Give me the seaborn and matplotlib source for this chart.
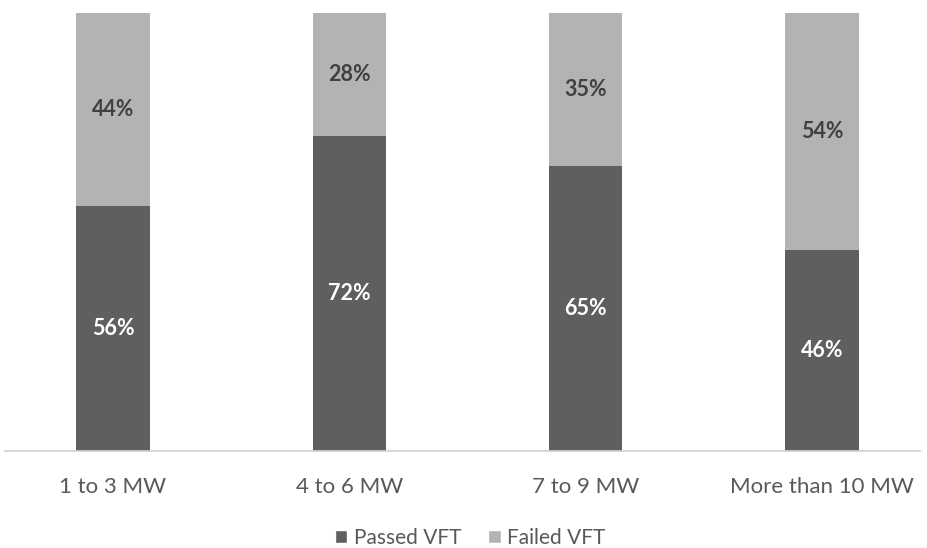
import matplotlib
matplotlib.use("Agg")
import matplotlib.pyplot as plt
import seaborn as sns
import pandas as pd
from matplotlib.patches import Patch

categories = ["1 to 3 MW", "4 to 6 MW", "7 to 9 MW", "More than 10 MW"]
passed = [0.56, 0.72, 0.65, 0.46]
failed = [0.44, 0.28, 0.35, 0.54]
series_names = ["Passed VFT", "Failed VFT"]

dark = "#5f5f5f"
light = "#b3b3b3"
text_col = "#595959"

sns.set_theme(style="white")
plt.rcParams["font.family"] = ["Lato", "DejaVu Sans"]

fig = plt.figure(figsize=(9.27, 5.48), dpi=100)
W, H = 927, 548
ax = fig.add_axes([5 / W, 1 - 451 / H, (920 - 5) / W, (451 - 13) / H])

df = pd.DataFrame({"cat": categories, "passed": passed, "total": [p + f for p, f in zip(passed, failed)]})
sns.barplot(data=df, x="cat", y="total", color=light, width=0.31, ax=ax, saturation=1, edgecolor="none")
sns.barplot(data=df, x="cat", y="passed", color=dark, width=0.31, ax=ax, saturation=1, edgecolor="none")

for i, (p, f) in enumerate(zip(passed, failed)):
    ax.text(i, p * 0.5, f"{round(p*100)}%", ha="center", va="center", color="white",
            fontsize=15.5, fontweight="bold")
    ax.text(i, p + f * 0.5, f"{round(f*100)}%", ha="center", va="center", color="#404040",
            fontsize=15.5, fontweight="bold")

ax.set_ylim(0, 1)
ax.set_xlim((5 - 113) / 236.3, (920 - 113) / 236.3)
ax.set_yticks([])
ax.set_xlabel("")
ax.set_ylabel("")
for s in ["top", "right", "left"]:
    ax.spines[s].set_visible(False)
ax.spines["bottom"].set_color("#d0d0d0")
ax.spines["bottom"].set_linewidth(1.2)
ax.tick_params(axis="x", length=0, pad=19, labelsize=16, labelcolor=text_col)

handles = [Patch(facecolor=dark, label=series_names[0]), Patch(facecolor=light, label=series_names[1])]
fig.legend(handles=handles, loc="center", bbox_to_anchor=(470 / W, 1 - 538 / H), ncol=2, frameon=False,
           fontsize=15, labelcolor=text_col, handlelength=0.6, handleheight=0.6, handletextpad=0.3,
           columnspacing=1.3)

fig.savefig("out.png", dpi=100, facecolor="white")
